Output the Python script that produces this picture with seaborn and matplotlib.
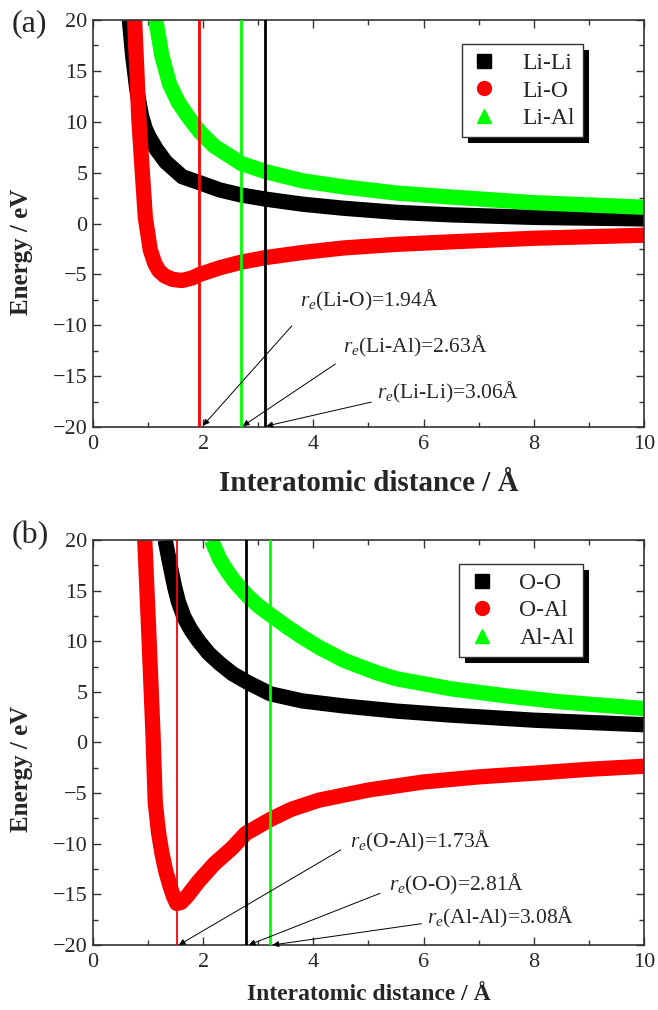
import matplotlib
matplotlib.use("Agg")
import matplotlib.pyplot as plt
from matplotlib.lines import Line2D
from matplotlib.patches import Rectangle
import seaborn as sns
import pandas as pd

# ---- panel (a) data ----
li_li_r = [0.66, 0.72, 0.80, 0.88, 0.95, 1.02, 1.15, 1.32, 1.62, 1.94, 2.30, 2.69, 3.13, 3.80, 4.55, 5.50, 6.50, 8.00, 10.0]
li_li_e = [20.0, 16.5, 13.0, 10.6, 9.3, 8.5, 7.3, 6.05, 4.6, 4.0, 3.3, 2.8, 2.4, 1.9, 1.5, 1.1, 0.85, 0.6, 0.45]

li_o_r = [0.755, 0.80, 0.83, 0.88, 0.95, 1.04, 1.12, 1.19, 1.30, 1.45, 1.62, 1.80, 1.94, 2.30, 2.69, 3.13, 3.80, 4.55, 5.50, 6.50, 8.00, 10.0]
li_o_e = [20.0, 14.5, 10.5, 6.3, 0.6, -2.6, -3.9, -4.6, -5.15, -5.5, -5.6, -5.35, -5.0, -4.35, -3.8, -3.35, -2.85, -2.4, -2.05, -1.8, -1.45, -1.15]

li_al_r = [1.14, 1.25, 1.39, 1.55, 1.74, 1.94, 2.20, 2.52, 2.69, 3.13, 3.80, 4.55, 5.50, 6.50, 8.00, 10.0]
li_al_e = [20.0, 16.5, 13.7, 11.9, 10.4, 9.0, 7.6, 6.5, 5.9, 5.1, 4.2, 3.6, 3.0, 2.6, 2.05, 1.6]

# ---- panel (b) data ----
o_o_r = [1.31, 1.40, 1.48, 1.55, 1.65, 1.78, 1.92, 2.10, 2.30, 2.53, 2.80, 3.22, 3.80, 4.56, 5.50, 6.50, 8.00, 10.0]
o_o_e = [20.0, 17.5, 15.4, 13.9, 12.4, 11.1, 10.0, 8.8, 7.8, 6.8, 5.95, 4.8, 4.1, 3.6, 3.1, 2.7, 2.2, 1.75]

o_al_r = [0.94, 1.00, 1.05, 1.09, 1.13, 1.19, 1.25, 1.32, 1.40, 1.46, 1.52, 1.60, 1.72, 1.92, 2.20, 2.53, 2.77, 3.22, 3.60, 4.10, 5.00, 6.00, 7.00, 8.10, 9.00, 10.0]
o_al_e = [20.0, 12.5, 6.0, 0.7, -5.9, -8.9, -10.9, -12.7, -14.2, -15.2, -15.9, -15.8, -15.1, -13.7, -12.0, -10.4, -9.0, -7.6, -6.6, -5.7, -4.7, -3.9, -3.4, -3.0, -2.65, -2.35]

al_al_r = [2.15, 2.30, 2.45, 2.60, 2.80, 3.00, 3.22, 3.50, 3.80, 4.10, 4.56, 5.14, 5.50, 6.50, 7.50, 8.50, 10.0]
al_al_e = [20.0, 18.1, 16.8, 15.7, 14.5, 13.5, 12.6, 11.5, 10.4, 9.4, 8.1, 6.9, 6.3, 5.3, 4.6, 4.0, 3.35]

labels_a = ["Li-Li", "Li-O", "Li-Al"]
labels_b = ["O-O", "O-Al", "Al-Al"]
colors = ["black", "#ff0000", "#00ff00"]
markers = ["s", "o", "^"]

# equilibrium distances (vertical lines) and their labels
re_a = [3.13, 1.93, 2.69]
re_b = [2.78, 1.53, 3.22]
re_text_a = [r"$r_e$(Li-Li)=3.06Å", r"$r_e$(Li-O)=1.94Å", r"$r_e$(Li-Al)=2.63Å"]
re_text_b = [r"$r_e$(O-O)=2.81Å", r"$r_e$(O-Al)=1.73Å", r"$r_e$(Al-Al)=3.08Å"]

sns.set_theme(style="ticks")
plt.rcParams["font.family"] = ["Liberation Serif", "DejaVu Serif"]
plt.rcParams["mathtext.fontset"] = "custom"
plt.rcParams["mathtext.rm"] = "Liberation Serif"
plt.rcParams["mathtext.it"] = "Liberation Serif:italic"


def make_df(names, rs, es):
    frames = []
    for n, r, e in zip(names, rs, es):
        frames.append(pd.DataFrame({"r": r, "E": e, "pair": n}))
    return pd.concat(frames, ignore_index=True)


df_a = make_df(labels_a, [li_li_r, li_o_r, li_al_r], [li_li_e, li_o_e, li_al_e])
df_b = make_df(labels_b, [o_o_r, o_al_r, al_al_r], [o_o_e, o_al_e, al_al_e])

fig = plt.figure(figsize=(6.58, 10.10), dpi=100)
ax1 = fig.add_axes([0.1413, 0.5772, 0.8374, 0.403])
ax2 = fig.add_axes([0.1413, 0.0644, 0.8374, 0.401])


def style_axes(ax, xlabel_size, xlab_y, ylab_y):
    ax.set_xlim(0, 10)
    ax.set_ylim(-20, 20)
    ax.set_xticks(range(0, 11, 2))
    ax.set_yticks(range(-20, 21, 5))
    ax.set_xticks(range(0, 11, 1), minor=True)
    ax.set_yticks([v * 2.5 for v in range(-8, 9)], minor=True)
    ax.tick_params(which="both", direction="in", top=True, right=True,
                   labelsize=16, color="#333333", width=1.0)
    ax.tick_params(which="major", length=6)
    ax.tick_params(which="minor", length=3.5)
    ax.tick_params(axis="x", pad=6)
    ax.tick_params(axis="y", pad=4)
    for sp in ax.spines.values():
        sp.set_color("#333333")
        sp.set_linewidth(1.2)
    ax.set_xlabel("Interatomic distance / Å", fontsize=xlabel_size, fontweight="bold")
    ax.set_ylabel("Energy / eV", fontsize=18, fontweight="bold")
    ax.xaxis.set_label_coords(0.5, xlab_y)
    ax.yaxis.set_label_coords(-0.108, ylab_y)


def draw_panel(ax, df, names, re_vals, re_lws, texts, text_pos, arrows,
               xlabel_size, xlab_y, ylab_y):
    sns.lineplot(data=df, x="r", y="E", hue="pair", hue_order=names,
                 palette=dict(zip(names, colors)), linewidth=11, sort=False,
                 estimator=None, legend=False, ax=ax,
                 solid_joinstyle="round", solid_capstyle="butt")
    for x, c, lw in zip(re_vals, colors, re_lws):
        ax.axvline(x, color=c, lw=lw, zorder=3)
    for t, (tx, ty), (tail, tip) in zip(texts, text_pos, arrows):
        ax.text(tx, ty, t, fontsize=15.5, va="baseline", ha="left")
        ax.annotate("", xy=tip, xytext=tail,
                    arrowprops=dict(arrowstyle="-|>", color="black", lw=0.7,
                                    mutation_scale=9, shrinkA=0, shrinkB=0))
    style_axes(ax, xlabel_size, xlab_y, ylab_y)
    handles = [Line2D([], [], ls="none", marker=m, color=c, markersize=10)
               for m, c in zip(markers, colors)]
    leg = ax.legend(handles, names, loc="upper right", bbox_to_anchor=(0.889, 0.94),
                    borderaxespad=0, frameon=True, fancybox=False, framealpha=1,
                    edgecolor="#333333", fontsize=17, handlelength=1.2,
                    handletextpad=1.0, borderpad=0.35, labelspacing=0.25)
    leg.get_frame().set_linewidth(1.0)
    return leg


leg1 = draw_panel(ax1, df_a, labels_a, re_a, [2.0, 2.0, 2.0], re_text_a,
                  [(5.16, -17.2), (3.75, -8.2), (4.54, -12.65)],
                  [((5.05, -17.55), (3.15, -19.9)),
                   ((3.61, -10.05), (2.0, -19.85)),
                   ((4.40, -13.8), (2.72, -19.9))], 21, -0.105, 0.43)
leg2 = draw_panel(ax2, df_b, labels_b, re_b, [2.0, 1.3, 2.0], re_text_b,
                  [(5.37, -14.6), (4.66, -10.4), (6.06, -17.9)],
                  [((5.21, -14.9), (2.83, -20.0)),
                   ((4.50, -10.6), (1.56, -20.0)),
                   ((5.96, -17.9), (3.26, -20.0))], 17, -0.096, 0.435)

# black drop shadow behind the legends
fig.canvas.draw()
renderer = fig.canvas.get_renderer()
for ax, leg in [(ax1, leg1), (ax2, leg2)]:
    bb = leg.get_window_extent(renderer).transformed(ax.transAxes.inverted())
    axbb = ax.get_window_extent(renderer)
    dx = 6 / axbb.width
    dy = 6 / axbb.height
    ax.add_patch(Rectangle((bb.x0 + dx, bb.y0 - dy), bb.width, bb.height,
                           transform=ax.transAxes, facecolor="black",
                           edgecolor="none", zorder=4.5, clip_on=False))

fig.text(0.018, 0.991, "(a)", fontsize=23, va="top", ha="left")
fig.text(0.018, 0.484, "(b)", fontsize=23, va="top", ha="left")

fig.savefig("out.png", dpi=100)
